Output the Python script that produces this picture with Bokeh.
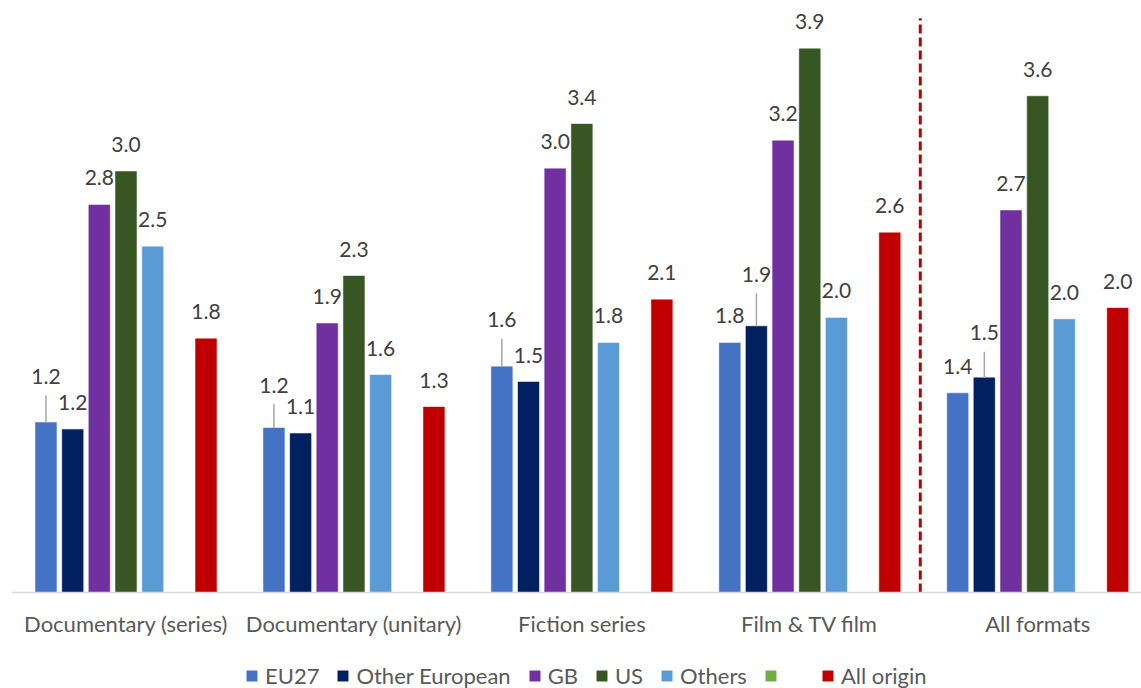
import math
from bokeh.plotting import figure
from bokeh.models import ColumnDataSource, Legend, LegendItem, Range1d, Span
from bokeh.core.properties import value
from bokeh.embed import file_html
from bokeh.resources import INLINE

categories = ["Documentary (series)", "Documentary (unitary)", "Fiction series",
              "Film & TV film", "All formats"]
series_names = ["EU27", "Other European", "GB", "US", "Others", "", "All origin"]
eu27 = [1.22, 1.18, 1.62, 1.79, 1.43]
other_european = [1.17, 1.14, 1.51, 1.91, 1.54]
gb = [2.78, 1.93, 3.04, 3.24, 2.74]
us = [3.02, 2.27, 3.36, 3.90, 3.56]
others = [2.48, 1.56, 1.79, 1.97, 1.96]
green_series = [None, None, None, None, None]
all_origin = [1.82, 1.33, 2.10, 2.58, 2.04]

series_values = [eu27, other_european, gb, us, others, green_series, all_origin]
colors = ["#4472c4", "#002060", "#7030a0", "#375623", "#5b9bd5", "#70ad47", "#c00000"]

# label lifts (pixels) for labels drawn with leader lines: (series index, group index)
lifts = {(0, 0): 19, (0, 1): 16, (0, 2): 20, (1, 3): 25, (1, 4): 18}

FONT = "Lato"
W, H = 1141, 688
baseline_px = 592
px_per_unit = 139.4
y_end = baseline_px / px_per_unit
y_start = -(H - baseline_px) / px_per_unit

p = figure(width=W, height=H, output_backend="svg", toolbar_location=None,
           x_range=Range1d(-0.5024, 4.4556), y_range=Range1d(y_start, y_end),
           x_axis_location=None, y_axis_location=None,
           min_border_left=11, min_border_right=0, min_border_top=0,
           min_border_bottom=0)
p.outline_line_color = None
p.xgrid.visible = False
p.ygrid.visible = False
p.background_fill_color = "white"
p.border_fill_color = "white"

# axis baseline
p.add_layout(Span(location=0, dimension="width", line_color="#d9d9d9", line_width=1.5))

slot = 0.117
bar_w = 0.092
legend_items = []
for i, (name, vals, col) in enumerate(zip(series_names, series_values, colors)):
    off = (i - 3) * slot
    xs = [g + off for g in range(len(vals))]
    tops = [math.nan if v is None else v for v in vals]
    src = ColumnDataSource(dict(x=xs, top=tops))
    r = p.vbar(x="x", top="top", width=bar_w, source=src, fill_color=col,
               line_color=col, line_width=0.5)
    legend_items.append(LegendItem(label=value(name), renderers=[r], index=0))

    lx, ly, lt, loff = [], [], [], []
    sx0, sy0, sy1 = [], [], []
    for g, v in enumerate(vals):
        if v is None:
            continue
        lift = lifts.get((i, g), 0)
        lx.append(g + off)
        ly.append(v)
        lt.append(f"{v:.1f}")
        loff.append(-(27 + lift))
        if lift:
            sx0.append(g + off)
            sy0.append(v)
            sy1.append(v + (lift + 8) / px_per_unit)
    if lx:
        lsrc = ColumnDataSource(dict(x=lx, y=ly, t=lt, yo=loff))
        p.text(x="x", y="y", text="t", y_offset="yo", source=lsrc,
               text_align="center", text_baseline="alphabetic",
               text_font=value(FONT), text_font_size="21px", text_color="#404040")
    if sx0:
        ssrc = ColumnDataSource(dict(x=sx0, y0=sy0, y1=sy1))
        p.segment(x0="x", y0="y0", x1="x", y1="y1", source=ssrc,
                  line_color="#a6a6a6", line_width=1.5)

# dashed separator
p.segment(x0=[3.485], y0=[0], x1=[3.485], y1=[4.12], line_color="#c00000",
          line_width=3, line_dash="9 4")

# category labels
csrc = ColumnDataSource(dict(x=list(range(len(categories))), y=[0] * len(categories),
                             t=categories))
p.text(x="x", y="y", text="t", source=csrc, y_offset=31, text_align="center",
       text_baseline="alphabetic", text_font=value(FONT), text_font_size="22px",
       text_color="#595959")

legend = Legend(items=legend_items, orientation="horizontal", location=(234, -1),
                glyph_width=13, glyph_height=13, label_standoff=7, spacing=17,
                padding=0, margin=0, border_line_color=None,
                label_text_font=FONT, label_text_font_size="22px",
                label_text_color="#595959", background_fill_alpha=0)
p.add_layout(legend, "center")

open("out.html", "w").write(file_html(p, INLINE))
